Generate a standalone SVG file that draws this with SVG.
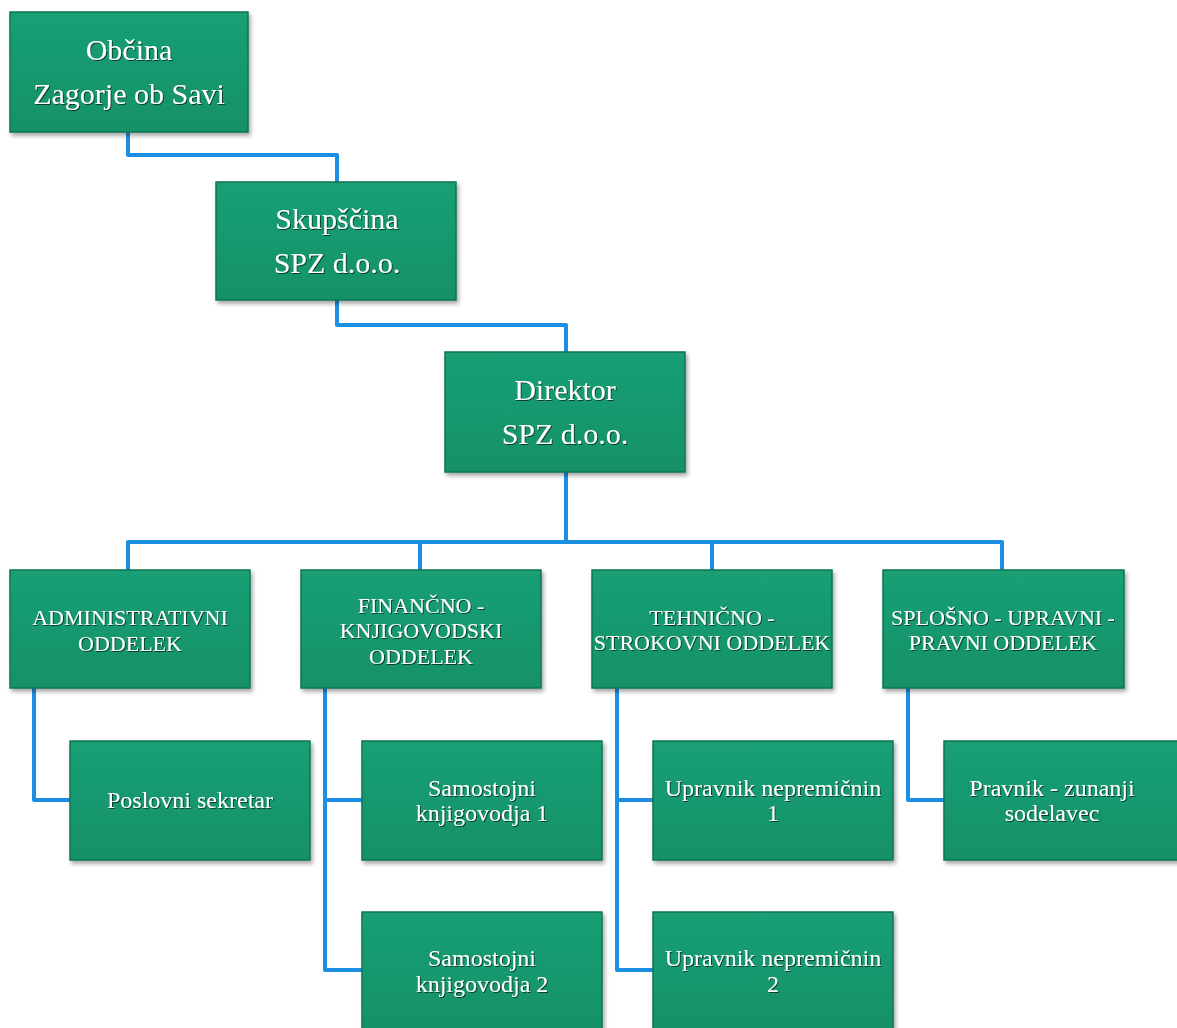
<svg xmlns="http://www.w3.org/2000/svg" width="1177" height="1028" viewBox="0 0 1177 1028">
<defs>
<filter id="sh" x="-10%" y="-10%" width="125%" height="130%">
<feDropShadow dx="2" dy="3" stdDeviation="2" flood-color="#000" flood-opacity="0.35"/>
</filter>
<filter id="ts" x="-5%" y="-20%" width="110%" height="150%">
<feDropShadow dx="1" dy="1" stdDeviation="0.6" flood-color="#000" flood-opacity="0.6"/>
</filter>
<linearGradient id="g" x1="0" y1="0" x2="0" y2="1">
<stop offset="0" stop-color="#1a9f75"/>
<stop offset="0.5" stop-color="#17986f"/>
<stop offset="1" stop-color="#139168"/>
</linearGradient>
</defs>
<style>
.box{fill:url(#g);stroke:#0e7653;stroke-width:1.5;filter:url(#sh)}
.t{font-family:"Liberation Serif","DejaVu Serif",serif;fill:#ffffff;text-anchor:middle;filter:url(#ts)}
.big{font-size:30px}
.cap{font-size:22px}
.low{font-size:24px}
.con{fill:none;stroke:#1b8fe3;stroke-width:4;stroke-linejoin:round}
</style>
<rect width="1177" height="1028" fill="#ffffff"/>
<g id="connectors">
<path class="con" d="M128 132 V155 H337 V182"/>
<path class="con" d="M337 300 V325 H566 V352"/>
<path class="con" d="M566 472 V542"/>
<path class="con" d="M128 570 V542 H1002 V570"/>
<path class="con" d="M420 542 V570"/>
<path class="con" d="M712 542 V570"/>
<path class="con" d="M34 688 V800 H70"/>
<path class="con" d="M325 688 V970 H362"/>
<path class="con" d="M325 800 H362"/>
<path class="con" d="M617 688 V970 H653"/>
<path class="con" d="M617 800 H653"/>
<path class="con" d="M908 688 V800 H944"/>
</g>
<g id="obcina">
<rect class="box" x="10" y="12" width="238" height="120"/>
<text class="t big" x="129" y="60">Občina</text>
<text class="t big" x="129" y="104">Zagorje ob Savi</text>
</g>
<g id="skupscina">
<rect class="box" x="216" y="182" width="240" height="118"/>
<text class="t big" x="337" y="229">Skupščina</text>
<text class="t big" x="337" y="273">SPZ d.o.o.</text>
</g>
<g id="direktor">
<rect class="box" x="445" y="352" width="240" height="120"/>
<text class="t big" x="565" y="400">Direktor</text>
<text class="t big" x="565" y="444">SPZ d.o.o.</text>
</g>
<g id="administrativni">
<rect class="box" x="10" y="570" width="240" height="118"/>
<text class="t cap" x="130" y="625">ADMINISTRATIVNI</text>
<text class="t cap" x="130" y="651">ODDELEK</text>
</g>
<g id="financno">
<rect class="box" x="301" y="570" width="240" height="118"/>
<text class="t cap" x="421" y="613">FINANČNO -</text>
<text class="t cap" x="421" y="638">KNJIGOVODSKI</text>
<text class="t cap" x="421" y="664">ODDELEK</text>
</g>
<g id="tehnicno">
<rect class="box" x="592" y="570" width="240" height="118"/>
<text class="t cap" x="712" y="625">TEHNIČNO -</text>
<text class="t cap" x="712" y="650">STROKOVNI ODDELEK</text>
</g>
<g id="splosno">
<rect class="box" x="883" y="570" width="241" height="118"/>
<text class="t cap" x="1003" y="625">SPLOŠNO - UPRAVNI -</text>
<text class="t cap" x="1003" y="650">PRAVNI ODDELEK</text>
</g>
<g id="poslovni">
<rect class="box" x="70" y="741" width="240" height="119"/>
<text class="t low" x="190" y="808">Poslovni sekretar</text>
</g>
<g id="knjigovodja1">
<rect class="box" x="362" y="741" width="240" height="119"/>
<text class="t low" x="482" y="796">Samostojni</text>
<text class="t low" x="482" y="821">knjigovodja 1</text>
</g>
<g id="upravnik1">
<rect class="box" x="653" y="741" width="240" height="119"/>
<text class="t low" x="773" y="796">Upravnik nepremičnin</text>
<text class="t low" x="773" y="821">1</text>
</g>
<g id="pravnik">
<rect class="box" x="944" y="741" width="240" height="119"/>
<text class="t low" x="1052" y="796">Pravnik - zunanji</text>
<text class="t low" x="1052" y="821">sodelavec</text>
</g>
<g id="knjigovodja2">
<rect class="box" x="362" y="912" width="240" height="119"/>
<text class="t low" x="482" y="966">Samostojni</text>
<text class="t low" x="482" y="992">knjigovodja 2</text>
</g>
<g id="upravnik2">
<rect class="box" x="653" y="912" width="240" height="119"/>
<text class="t low" x="773" y="966">Upravnik nepremičnin</text>
<text class="t low" x="773" y="992">2</text>
</g>
</svg>
